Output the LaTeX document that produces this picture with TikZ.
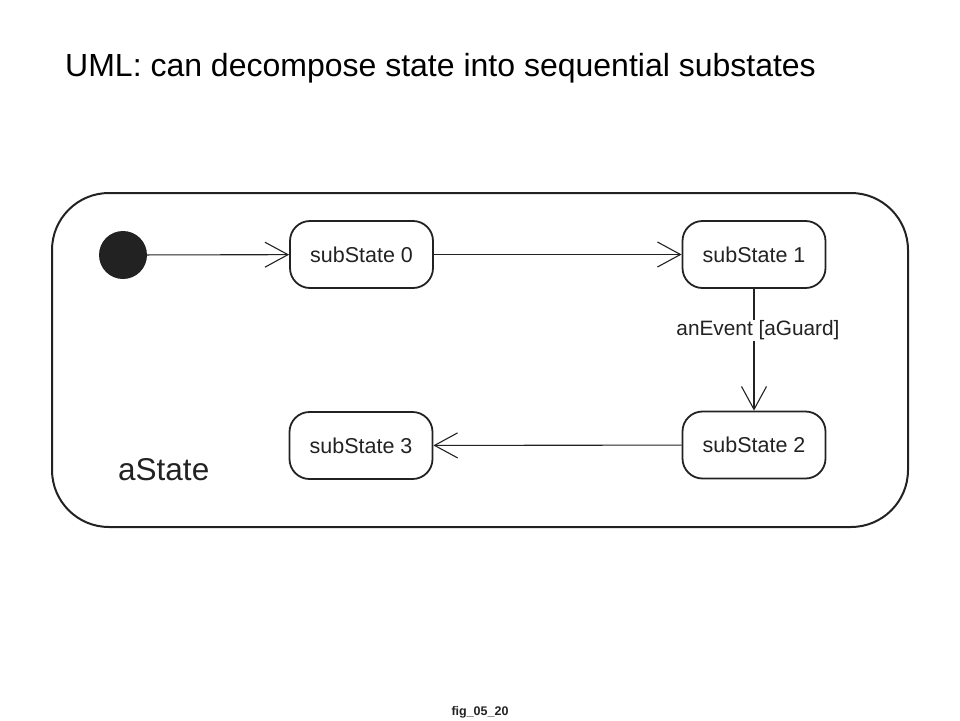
\documentclass[tikz,border=0pt]{standalone}
\usepackage{fontspec}
\setmainfont{Liberation Sans}
\usetikzlibrary{arrows.meta}
\definecolor{ink}{HTML}{222222}
\tikzset{
  substate/.style={draw=ink, line width=1.8pt, rounded corners=20pt, minimum width=143pt, minimum height=67pt, inner sep=0pt, font=\fontsize{21.5}{24}\selectfont, text=ink},
  trans/.style={draw=ink, line width=1.1pt, -{Straight Barb[length=23pt,width=25pt,line width=1.1pt]}},
}
\begin{document}
\begin{tikzpicture}[x=1pt,y=-1pt]
\useasboundingbox (0,0) rectangle (960,720);
% title
\node[anchor=base west, inner sep=0pt, font=\fontsize{32}{36}\selectfont] (title) at (65,76) {UML: can decompose state into sequential substates};
% outer state
\draw[draw=ink, line width=2pt, rounded corners=57pt] (52,193) rectangle (908,527);
\node[anchor=base west, inner sep=0pt, font=\fontsize{31.5}{36}\selectfont, text=ink] (astate) at (118,480) {aState};
% initial
\node[circle, fill=ink, minimum size=48pt, inner sep=0pt] (init) at (123,255) {};
\node[substate] (s0) at (361.5,254.5) {subState 0};
\node[substate] (s1) at (754,254.5) {subState 1};
\node[substate] (s2) at (754,445) {subState 2};
\node[substate] (s3) at (361,445.5) {subState 3};
\draw[trans] (init) -- (s0);
\draw[trans] (s0) -- (s1);
\draw[trans] (s1) -- node[fill=white, inner sep=1pt, font=\fontsize{20.8}{24}\selectfont, text=ink, pos=0.34, xshift=4pt] (lab) {anEvent [aGuard]} (s2);
\draw[trans] (s2) -- (s3);
% footnote
\node[anchor=base, inner sep=0pt, font=\bfseries\fontsize{12.5}{14}\selectfont, text=ink] (fig) at (480,715) {fig\_05\_20};
\end{tikzpicture}
\end{document}
